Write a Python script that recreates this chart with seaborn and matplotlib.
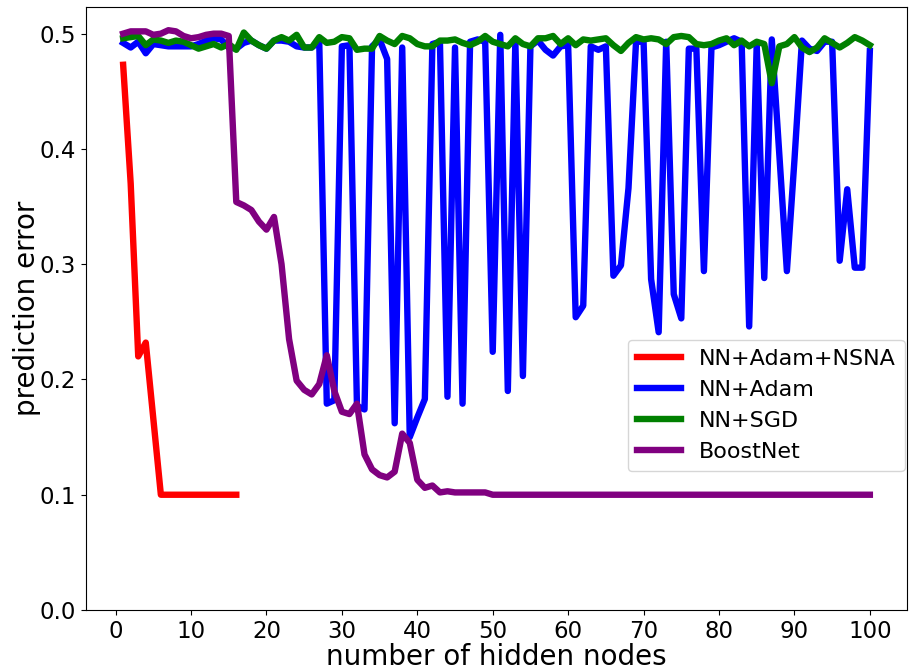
import matplotlib
matplotlib.use("Agg")
import matplotlib.pyplot as plt
import seaborn as sns
import pandas as pd

# ---- data ----
nsna_x = [1, 2, 3, 4, 5, 6, 7, 8, 9, 10, 11, 12, 13, 14, 15, 16]
nsna_y = [0.473, 0.370, 0.220, 0.232, 0.166, 0.100, 0.100, 0.100, 0.100, 0.100,
          0.100, 0.100, 0.100, 0.100, 0.100, 0.100]

nodes = list(range(1, 101))

adam_y = [0.492, 0.488, 0.493, 0.483, 0.491, 0.490, 0.489, 0.489, 0.489, 0.489,
          0.491, 0.494, 0.496, 0.495, 0.488, 0.487, 0.492, 0.494, 0.490, 0.487,
          0.494, 0.494, 0.493, 0.489, 0.488, 0.488, 0.493, 0.179, 0.182, 0.489,
          0.490, 0.177, 0.174, 0.489, 0.495, 0.478, 0.162, 0.488, 0.150, 0.167,
          0.183, 0.491, 0.493, 0.185, 0.488, 0.179, 0.493, 0.495, 0.493, 0.224,
          0.499, 0.190, 0.493, 0.203, 0.489, 0.494, 0.486, 0.481, 0.489, 0.490,
          0.254, 0.264, 0.489, 0.486, 0.489, 0.290, 0.299, 0.366, 0.493, 0.493,
          0.287, 0.241, 0.493, 0.274, 0.253, 0.487, 0.487, 0.294, 0.488, 0.490,
          0.493, 0.496, 0.493, 0.246, 0.491, 0.288, 0.495, 0.395, 0.294, 0.390,
          0.494, 0.487, 0.485, 0.493, 0.493, 0.303, 0.365, 0.297, 0.297, 0.485]

sgd_y = [0.496, 0.497, 0.498, 0.490, 0.495, 0.494, 0.492, 0.494, 0.493, 0.490,
         0.487, 0.489, 0.491, 0.488, 0.491, 0.486, 0.501, 0.494, 0.490, 0.487,
         0.494, 0.497, 0.494, 0.499, 0.488, 0.488, 0.497, 0.492, 0.493, 0.497,
         0.496, 0.486, 0.487, 0.487, 0.498, 0.494, 0.491, 0.498, 0.496, 0.491,
         0.489, 0.489, 0.494, 0.494, 0.495, 0.492, 0.490, 0.493, 0.498, 0.493,
         0.491, 0.489, 0.496, 0.491, 0.489, 0.496, 0.496, 0.498, 0.491, 0.496,
         0.490, 0.495, 0.494, 0.495, 0.496, 0.490, 0.485, 0.492, 0.497, 0.495,
         0.496, 0.495, 0.491, 0.497, 0.498, 0.497, 0.491, 0.490, 0.491, 0.494,
         0.496, 0.490, 0.494, 0.489, 0.493, 0.491, 0.457, 0.489, 0.491, 0.497,
         0.488, 0.484, 0.488, 0.496, 0.492, 0.488, 0.492, 0.497, 0.494, 0.490]

boost_y = [0.500, 0.502, 0.502, 0.502, 0.499, 0.500, 0.503, 0.502, 0.498, 0.496,
           0.497, 0.499, 0.500, 0.500, 0.498, 0.354, 0.351, 0.347, 0.337, 0.330,
           0.341, 0.300, 0.235, 0.199, 0.191, 0.187, 0.196, 0.221, 0.190, 0.172,
           0.170, 0.179, 0.135, 0.122, 0.117, 0.115, 0.120, 0.153, 0.145, 0.113,
           0.106, 0.108, 0.102, 0.103, 0.102, 0.102, 0.102, 0.102, 0.102, 0.100,
           0.100, 0.100, 0.100, 0.100, 0.100, 0.100, 0.100, 0.100, 0.100, 0.100,
           0.100, 0.100, 0.100, 0.100, 0.100, 0.100, 0.100, 0.100, 0.100, 0.100,
           0.100, 0.100, 0.100, 0.100, 0.100, 0.100, 0.100, 0.100, 0.100, 0.100,
           0.100, 0.100, 0.100, 0.100, 0.100, 0.100, 0.100, 0.100, 0.100, 0.100,
           0.100, 0.100, 0.100, 0.100, 0.100, 0.100, 0.100, 0.100, 0.100, 0.100]

labels = ["NN+Adam+NSNA", "NN+Adam", "NN+SGD", "BoostNet"]
colors = ["red", "blue", "green", "purple"]
x_ticks = [0, 10, 20, 30, 40, 50, 60, 70, 80, 90, 100]
y_ticks = [0.0, 0.1, 0.2, 0.3, 0.4, 0.5]

plt.rcParams['font.family'] = ['DejaVu Sans']

fig = plt.figure(figsize=(9.09, 6.65), dpi=100)
ax = fig.add_axes([0.0944, 0.0827, 0.9036, 0.9068])

series = [(nsna_x, nsna_y), (nodes, adam_y), (nodes, sgd_y), (nodes, boost_y)]
for (xs, ys), lab, col in zip(series, labels, colors):
    df = pd.DataFrame({"x": xs, "y": ys})
    sns.lineplot(data=df, x="x", y="y", ax=ax, color=col, linewidth=4.6,
                 label=lab, estimator=None)

ax.set_ylim(bottom=0)
ax.set_xticks(x_ticks)
ax.set_yticks(y_ticks)
ax.tick_params(axis='both', labelsize=16.5)
ax.set_xlabel("number of hidden nodes", fontsize=20, labelpad=0)
ax.set_ylabel("prediction error", fontsize=20)
ax.yaxis.set_label_coords(-0.054, 0.5)

leg = ax.legend(loc="upper right", bbox_to_anchor=(0.997, 0.448),
                borderaxespad=0, fontsize=16)

fig.savefig("out.png", dpi=100)
